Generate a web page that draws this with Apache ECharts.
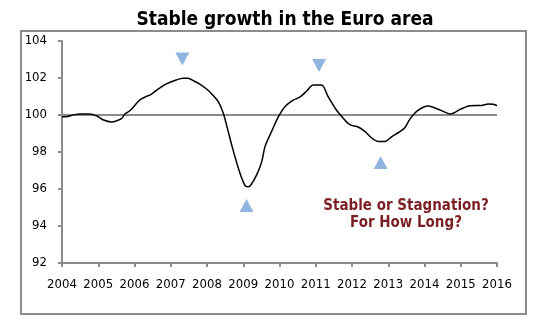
<!DOCTYPE html>
<html>
<head>
<meta charset="utf-8">
<script src="https://cdn.jsdelivr.net/npm/echarts@6/dist/echarts.min.js"></script>
<style>
html,body{margin:0;padding:0;background:#fff;}
#chart{width:533px;height:325px;}
</style>
</head>
<body>
<div id="chart"></div>
<script>
var titleText = 'Stable growth in the Euro area';
var noteLines = ['Stable or Stagnation?', 'For How Long?'];
var xTicks = [2004, 2005, 2006, 2007, 2008, 2009, 2010, 2011, 2012, 2013, 2014, 2015, 2016];
var yTicks = [92, 94, 96, 98, 100, 102, 104];
var dates = [2004.00, 2004.15, 2004.35, 2004.50, 2004.75, 2004.99, 2005.13, 2005.36, 2005.50, 2005.64,
  2005.73, 2005.87, 2006.00, 2006.14, 2006.30, 2006.46, 2006.65, 2006.88, 2007.15, 2007.34,
  2007.48, 2007.64, 2007.81, 2007.98, 2008.15, 2008.31, 2008.45, 2008.54, 2008.72, 2008.91,
  2009.05, 2009.12, 2009.19, 2009.37, 2009.51, 2009.60, 2009.78, 2009.97, 2010.15, 2010.38,
  2010.57, 2010.75, 2010.93, 2011.16, 2011.34, 2011.57, 2011.76, 2011.94, 2012.17, 2012.36,
  2012.54, 2012.73, 2012.91, 2013.10, 2013.32, 2013.45, 2013.60, 2013.80, 2014.10, 2014.43,
  2014.72, 2015.00, 2015.26, 2015.58, 2015.76, 2015.90, 2016.00];
var values = [99.90, 99.92, 100.02, 100.05, 100.05, 99.92, 99.74, 99.62, 99.68, 99.80,
  100.04, 100.23, 100.50, 100.80, 100.98, 101.12, 101.40, 101.68, 101.89, 101.98,
  101.98, 101.84, 101.66, 101.42, 101.10, 100.72, 100.10, 99.45, 98.10, 96.85,
  96.18, 96.12, 96.16, 96.76, 97.48, 98.29, 99.10, 99.91, 100.45, 100.80,
  100.98, 101.30, 101.62, 101.62, 101.00, 100.27, 99.82, 99.48, 99.35, 99.10,
  98.76, 98.57, 98.57, 98.83, 99.10, 99.30, 99.78, 100.22, 100.48, 100.27,
  100.05, 100.32, 100.50, 100.52, 100.59, 100.58, 100.50];
var peakDates = [2007.32, 2011.09];
var peakMarks = [103.03, 102.68];
var troughDates = [2009.09, 2012.79];
var troughMarks = [95.11, 97.43];
var baseline = 100;

var FONT = '"DejaVu Sans Condensed", "DejaVu Sans", sans-serif';
var GREY = '#8c8c8c';
var BLUE = '#74a3da';

function pairs(xs, ys) { return xs.map(function (x, i) { return [x, ys[i]]; }); }

var chart = echarts.init(document.getElementById('chart'), null, {renderer: 'canvas'});
chart.setOption({
  animation: false,
  backgroundColor: '#fff',
  title: {
    text: titleText,
    left: 280, top: 6, textAlign: 'center',
    textStyle: {fontFamily: FONT, fontWeight: 'bold', fontSize: 19, color: '#000'}
  },
  grid: {left: 62, right: 36, top: 41, bottom: 62},
  xAxis: {
    type: 'value', min: 2004, max: 2016, interval: 1,
    axisLine: {lineStyle: {color: GREY, width: 2}},
    axisTick: {show: true, length: 4, lineStyle: {color: GREY, width: 2}},
    splitLine: {show: false},
    axisLabel: {margin: 15, fontFamily: FONT, fontSize: 13, color: '#000',
      formatter: function (v) { return xTicks.indexOf(v) >= 0 ? String(v) : ''; }}
  },
  yAxis: {
    type: 'value', min: 92, max: 104, interval: 2,
    axisLine: {show: true, lineStyle: {color: GREY, width: 2}},
    axisTick: {show: true, length: 4, lineStyle: {color: GREY, width: 2}},
    splitLine: {show: false},
    axisLabel: {margin: 15, fontFamily: FONT, fontSize: 13, color: '#000',
      formatter: function (v) { return yTicks.indexOf(v) >= 0 ? String(v) : ''; }}
  },
  series: [
    {
      type: 'line', data: pairs(dates, values), showSymbol: false, smooth: 0.3,
      lineStyle: {color: '#000', width: 1.5}, z: 5,
      markLine: {
        silent: true, symbol: 'none', label: {show: false},
        lineStyle: {color: GREY, width: 2, type: 'solid'},
        data: [{yAxis: baseline}]
      }
    },
    {
      type: 'scatter', data: pairs(peakDates, peakMarks), symbol: 'triangle',
      symbolRotate: 180, symbolSize: [14, 13], itemStyle: {color: BLUE}
    },
    {
      type: 'scatter', data: pairs(troughDates, troughMarks), symbol: 'triangle',
      symbolSize: [14, 13], itemStyle: {color: BLUE}
    }
  ],
  graphic: [
    {type: 'rect', silent: true, z: -1,
      shape: {x: 21, y: 31, width: 505, height: 283},
      style: {fill: 'none', stroke: GREY, lineWidth: 2}},
    {type: 'text', x: 406, y: 198, silent: true,
      style: {text: noteLines.join('\n'), textAlign: 'center', fill: '#7b1f24',
        font: 'bold 15px ' + FONT, lineHeight: 17}}
  ]
});
</script>
</body>
</html>
